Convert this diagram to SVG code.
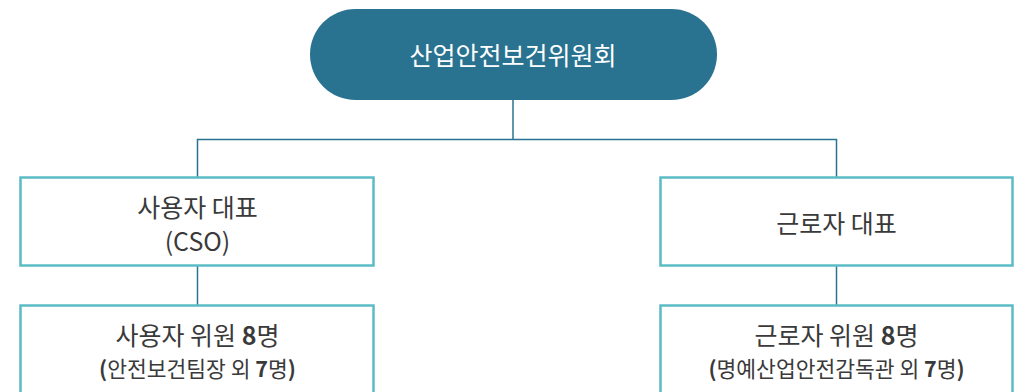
<svg xmlns="http://www.w3.org/2000/svg" width="1020" height="392" viewBox="0 0 1020 392">
<style>
.box{fill:#ffffff;stroke:#5bbcc6;stroke-width:2.5}
.pill{fill:#297391}
.conn{fill:none;stroke:#297391;stroke-width:1.5}
text{font-family:"Noto Sans CJK KR","Noto Sans",sans-serif;text-anchor:middle;fill:#3a3a3a}
.t1{font-size:25px}
.t2{font-size:21.5px}
.w{fill:#ffffff;font-size:25px}
.b{font-weight:bold}
</style>
<rect width="1020" height="392" fill="#ffffff"/>
<g id="connectors">
<path class="conn" d="M513,100 V139"/>
<path class="conn" d="M197.5,177 V139.5 H836.5 V177"/>
<path class="conn" d="M197.5,266 V305"/>
<path class="conn" d="M836.5,266 V305"/>
</g>
<g id="committee">
<rect class="pill" x="310" y="9" width="407" height="91" rx="45.5"/>
<text class="w" x="513" y="64.5">산업안전보건위원회</text>
</g>
<g id="employer-rep">
<rect class="box" x="20.5" y="177.5" width="353" height="88"/>
<text class="t1" x="197.5" y="216.5">사용자 대표</text>
<text class="t1" x="197.5" y="250.5">(CSO)</text>
</g>
<g id="worker-rep">
<rect class="box" x="660.5" y="177.5" width="352" height="88"/>
<text class="t1" x="836.5" y="232.5">근로자 대표</text>
</g>
<g id="employer-members">
<rect class="box" x="20.5" y="305.5" width="353" height="100"/>
<text class="t1" x="197.5" y="344.5">사용자 위원 <tspan class="b">8</tspan>명</text>
<text class="t2" x="197.5" y="377"><tspan class="b">(</tspan>안전보건팀장 외 <tspan class="b">7</tspan>명<tspan class="b">)</tspan></text>
</g>
<g id="worker-members">
<rect class="box" x="660.5" y="305.5" width="352" height="100"/>
<text class="t1" x="836.5" y="344.5">근로자 위원 <tspan class="b">8</tspan>명</text>
<text class="t2" x="836.5" y="377"><tspan class="b">(</tspan>명예산업안전감독관 외 <tspan class="b">7</tspan>명<tspan class="b">)</tspan></text>
</g>
</svg>
